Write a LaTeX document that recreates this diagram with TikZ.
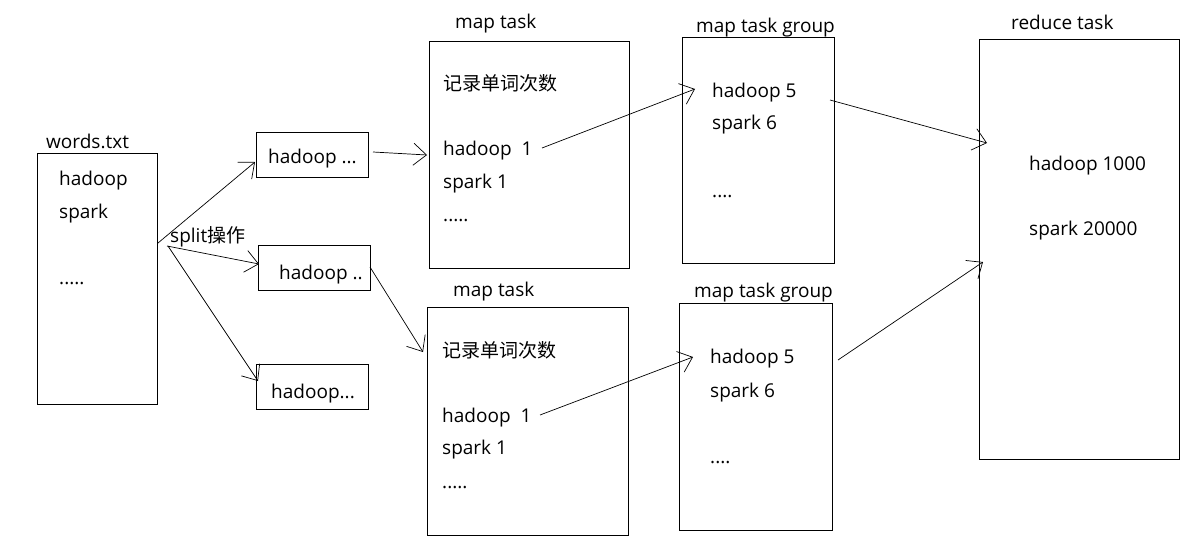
\documentclass[tikz,border=0pt]{standalone}
\usepackage{fontspec}
\setmainfont{Open Sans}
\newfontfamily\cjk{Noto Sans CJK SC}
\usetikzlibrary{arrows.meta}
\begin{document}
\begin{tikzpicture}[x=1pt,y=-1pt,
  box/.style={draw=black,line width=0.9pt,rectangle,inner sep=0pt,anchor=north west},
  txt/.style={anchor=base west,inner sep=0pt,font=\fontsize{19}{23}\selectfont},
  arr/.style={line width=0.7pt,-{Straight Barb[length=13pt,width=22pt,line width=0.7pt]}}]
\useasboundingbox[fill=white] (0,0) rectangle (1194,541);
% words.txt
\node[box,minimum width=120pt,minimum height=251pt] (words) at (37,153) {};
\node[txt] (wordsl) at (46,148) {words.txt};
\node[txt] (w1) at (59,185) {hadoop};
\node[txt] (w2) at (59,218) {spark};
\node[txt] (w3) at (59,284) {.....};
% split boxes
\node[box,minimum width=112pt,minimum height=45pt] (b1) at (256,132) {};
\node[txt] (b1t) at (268,163) {hadoop ...};
\node[box,minimum width=112pt,minimum height=45pt] (b2) at (258,245) {};
\node[txt] (b2t) at (279,279) {hadoop ..};
\node[box,minimum width=112pt,minimum height=45pt] (b3) at (256,364) {};
\node[txt] (b3t) at (271,398) {hadoop...};
\node[txt] (split) at (170,242) {split{\cjk 操作}};
% map task top
\node[box,minimum width=200pt,minimum height=227pt] (m1) at (429,41) {};
\node[txt] (m1l) at (455,28) {map task};
\node[txt] (m1a) at (443,90) {\cjk 记录单词次数};
\node[txt] (m1b) at (443,155) {hadoop\ \ 1};
\node[txt] (m1c) at (443,188) {spark 1};
\node[txt] (m1d) at (443,221) {.....};
% map task bottom
\node[box,minimum width=201pt,minimum height=228pt] (m2) at (427,307) {};
\node[txt] (m2l) at (453,296) {map task};
\node[txt] (m2a) at (442,357) {\cjk 记录单词次数};
\node[txt] (m2b) at (442,422) {hadoop\ \ 1};
\node[txt] (m2c) at (442,454) {spark 1};
\node[txt] (m2d) at (442,488) {.....};
% map task group top
\node[box,minimum width=152pt,minimum height=226pt] (g1) at (682,37) {};
\node[txt] (g1l) at (696,32) {map task group};
\node[txt] (g1a) at (712,97) {hadoop 5};
\node[txt] (g1b) at (712,129) {spark 6};
\node[txt] (g1c) at (712,197) {....};
% map task group bottom
\node[box,minimum width=153pt,minimum height=227pt] (g2) at (679,303) {};
\node[txt] (g2l) at (694,297) {map task group};
\node[txt] (g2a) at (710,363) {hadoop 5};
\node[txt] (g2b) at (710,397) {spark 6};
\node[txt] (g2c) at (710,463) {....};
% reduce task
\node[box,minimum width=200pt,minimum height=420pt] (r) at (979,39) {};
\node[txt] (rl) at (1011,29) {reduce task};
\node[txt] (ra) at (1029,170) {hadoop 1000};
\node[txt] (rb) at (1029,235) {spark 20000};
% connector end points
\coordinate (s1) at (158,243);  \coordinate (e1) at (255,162);
\coordinate (s2) at (167,246);  \coordinate (e2) at (259,264);
\coordinate (s3) at (168,246);  \coordinate (e3) at (258,381);
\coordinate (s4) at (373,152);  \coordinate (e4) at (427,155);
\coordinate (s5) at (370,267);  \coordinate (e5) at (423,352);
\coordinate (s6) at (542,148);  \coordinate (e6) at (695,89);
\coordinate (s7) at (540,415);  \coordinate (e7) at (693,357);
\coordinate (s8) at (830,100);  \coordinate (e8) at (987,143);
\coordinate (s9) at (838,360);  \coordinate (e9) at (983,262);
\draw[arr] (s1) -- (e1);
\draw[arr] (s2) -- (e2);
\draw[arr] (s3) -- (e3);
\draw[arr] (s4) -- (e4);
\draw[arr] (s5) -- (e5);
\draw[arr] (s6) -- (e6);
\draw[arr] (s7) -- (e7);
\draw[arr] (s8) -- (e8);
\draw[arr] (s9) -- (e9);
\end{tikzpicture}
\end{document}
